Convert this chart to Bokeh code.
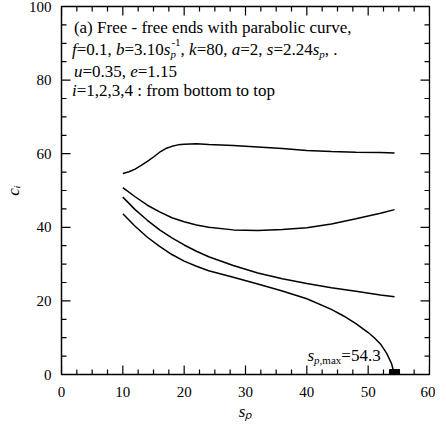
from bokeh.plotting import figure
from bokeh.models import Range1d, LinearAxis, FixedTicker, Label
from bokeh.embed import file_html
from bokeh.resources import INLINE

# ---------------- data ----------------
s_p = [10, 12, 14, 16, 18, 20, 22, 24, 28, 32, 36, 40, 44, 48, 52, 54.3]
s_p4 = [10, 11, 12, 13, 14, 15, 16, 17, 18, 19, 20, 22, 24, 28, 32, 36, 40, 44, 48, 52, 54.3]
c4 = [54.6, 55.1, 55.8, 56.8, 57.9, 59.1, 60.4, 61.4, 62.0, 62.4, 62.6, 62.7, 62.5, 62.2, 61.8, 61.4, 60.9, 60.6, 60.4, 60.3, 60.2]
c3 = [50.8, 48.3, 46.0, 44.2, 42.6, 41.5, 40.6, 40.0, 39.3, 39.1, 39.4, 39.9, 40.9, 42.3, 43.8, 44.8]
c2 = [48.2, 44.8, 41.9, 39.3, 37.1, 35.2, 33.5, 32.0, 29.6, 27.6, 26.0, 24.7, 23.6, 22.6, 21.6, 21.1]
s_p1 = [10, 12, 14, 16, 18, 20, 22, 24, 28, 32, 36, 40, 44, 46, 48, 50, 51, 52, 53, 53.8, 54.3]
c1 = [43.7, 40.3, 37.3, 34.8, 32.6, 30.8, 29.4, 28.2, 26.4, 24.6, 22.7, 20.6, 17.7, 15.9, 13.8, 11.4, 10.0, 8.3, 5.8, 3.0, 0.0]
sp_max = 54.3
x_ticks = [0, 10, 20, 30, 40, 50, 60]
y_ticks = [0, 20, 40, 60, 80, 100]
x_minor_step = 2.5
y_minor_step = 5
x_title = "s\u209a"      # s_p
y_title = "c\u1d62"      # c_i

FONT = "Liberation Serif"

def minors(ticks, step):
    out = []
    for a, b in zip(ticks[:-1], ticks[1:]):
        v = a + step
        while v < b - 1e-9:
            out.append(v)
            v += step
    return out

x_minor = minors(x_ticks, x_minor_step)
y_minor = minors(y_ticks, y_minor_step)

FW, FH = 368, 368
p = figure(frame_width=FW, frame_height=FH, output_backend="svg", toolbar_location=None,
           x_range=Range1d(x_ticks[0], x_ticks[-1]), y_range=Range1d(y_ticks[0], y_ticks[-1]),
           x_axis_type=None, y_axis_type=None,
           min_border_left=56, min_border_right=6, min_border_top=6, min_border_bottom=46)
p.grid.visible = False
p.outline_line_color = "black"
p.outline_line_width = 1.3
p.background_fill_color = "white"
p.border_fill_color = "white"

def make_axis(ticks):
    ax = LinearAxis(ticker=FixedTicker(ticks=ticks, minor_ticks=[]))
    ax.axis_line_color = "black"
    ax.axis_line_width = 1.2
    ax.major_tick_in = 0
    ax.major_tick_out = 0
    ax.minor_tick_in = 0
    ax.minor_tick_out = 0
    ax.major_tick_line_color = None
    ax.minor_tick_line_color = None
    ax.major_label_text_font = FONT
    ax.major_label_text_font_size = "15px"
    ax.major_label_text_color = "black"
    ax.axis_label_text_font = FONT
    ax.axis_label_text_font_style = "italic"
    ax.axis_label_text_font_size = "17px"
    ax.axis_label_text_color = "black"
    return ax

xb = make_axis(x_ticks)
xb.major_label_standoff = 12
xb.axis_label = x_title
xb.axis_label_standoff = 2
yl = make_axis(y_ticks)
yl.major_label_standoff = 10
yl.axis_label = y_title
yl.axis_label_standoff = 3
p.add_layout(xb, "below")
p.add_layout(yl, "left")

# inward ticks on all four sides: short segments from each frame edge inward
MAJ, MIN = 9, 5          # tick lengths in px
px_x = FW / (x_ticks[-1] - x_ticks[0])
px_y = FH / (y_ticks[-1] - y_ticks[0])
TCOL, TW = "black", 1.2
def ticks_bt(xs, length):
    n = len(xs)
    dy = length / px_y
    p.segment(xs, [y_ticks[0]] * n, xs, [y_ticks[0] + dy] * n, line_color=TCOL, line_width=TW)
    p.segment(xs, [y_ticks[-1]] * n, xs, [y_ticks[-1] - dy] * n, line_color=TCOL, line_width=TW)
def ticks_lr(ys, length):
    n = len(ys)
    dx = length / px_x
    p.segment([x_ticks[0]] * n, ys, [x_ticks[0] + dx] * n, ys, line_color=TCOL, line_width=TW)
    p.segment([x_ticks[-1]] * n, ys, [x_ticks[-1] - dx] * n, ys, line_color=TCOL, line_width=TW)

ticks_bt(x_ticks, MAJ); ticks_bt(x_minor, MIN)
ticks_lr(y_ticks, MAJ); ticks_lr(y_minor, MIN)

for xs, ys in [(s_p1, c1), (s_p, c2), (s_p, c3), (s_p4, c4)]:
    p.line(xs, ys, line_color="black", line_width=1.5)

# end marker at s_p,max
p.scatter([sp_max], [0], marker="square", size=10, fill_color="black", line_color="black")

# ---------------- rich text helper ----------------
REG = {" ": 250, "(": 333, ")": 333, ",": 250, ".": 250, "-": 333, "=": 564, ":": 278,
       "F": 556, "a": 444, "b": 500, "c": 444, "d": 500, "e": 444, "f": 333, "h": 500,
       "i": 278, "l": 278, "m": 778, "n": 500, "o": 500, "p": 500, "r": 333, "s": 389,
       "t": 278, "u": 500, "v": 500, "w": 722, "x": 500}
ITA = {"a": 500, "b": 500, "c": 444, "e": 444, "f": 278, "i": 278, "k": 444, "p": 500,
       "s": 389, "u": 500}

def tw(text, italic, size):
    tab = ITA if italic else REG
    return sum(tab.get(ch, REG.get(ch, 500)) for ch in text) / 1000.0 * size

def put(x, y, text, italic, size):
    p.add_layout(Label(x=x, y=y, x_units="screen", y_units="screen", text=text,
                       text_font=FONT, text_font_style="italic" if italic else "normal",
                       text_font_size=f"{size}px", text_color="black",
                       text_baseline="alphabetic", text_align="left"))

def rich(x0, y0, runs, size=17):
    x = x0
    small = round(size * 0.65)
    for r in runs:
        kind = r[0]
        if kind == "n":
            put(x, y0, r[1], False, size); x += tw(r[1], False, size)
        elif kind == "i":
            put(x, y0, r[1], True, size); x += tw(r[1], True, size)
        elif kind == "sub":
            put(x, y0 - 0.25 * size, r[1], r[2], small); x += tw(r[1], r[2], small)
        elif kind == "subsup":
            put(x, y0 - 0.25 * size, r[1], True, small)
            put(x + 1, y0 + 0.42 * size, r[2], False, small)
            x += max(tw(r[1], True, small), tw(r[2], False, small) + 1)

rich(12.4, 347, [("n", "(a) Free - free ends with parabolic curve,")])
rich(10.4, 325, [("i", "f"), ("n", "=0.1, "), ("i", "b"), ("n", "=3.10"), ("i", "s"),
                 ("subsup", "p", "-1"), ("n", ", "), ("i", "k"), ("n", "=80, "),
                 ("i", "a"), ("n", "=2, "), ("i", "s"), ("n", "=2.24"), ("i", "s"),
                 ("sub", "p", True), ("n", ", .")])
rich(12.4, 303, [("i", "u"), ("n", "=0.35, "), ("i", "e"), ("n", "=1.15")])
rich(10.4, 284, [("i", "i"), ("n", "=1,2,3,4 : from bottom to top")])

# s_p,max label
rich(246, 19, [("i", "s"), ("sub", "p", True), ("sub", ",max", False), ("n", "=54.3")])

open("out.html", "w").write(file_html(p, INLINE))
